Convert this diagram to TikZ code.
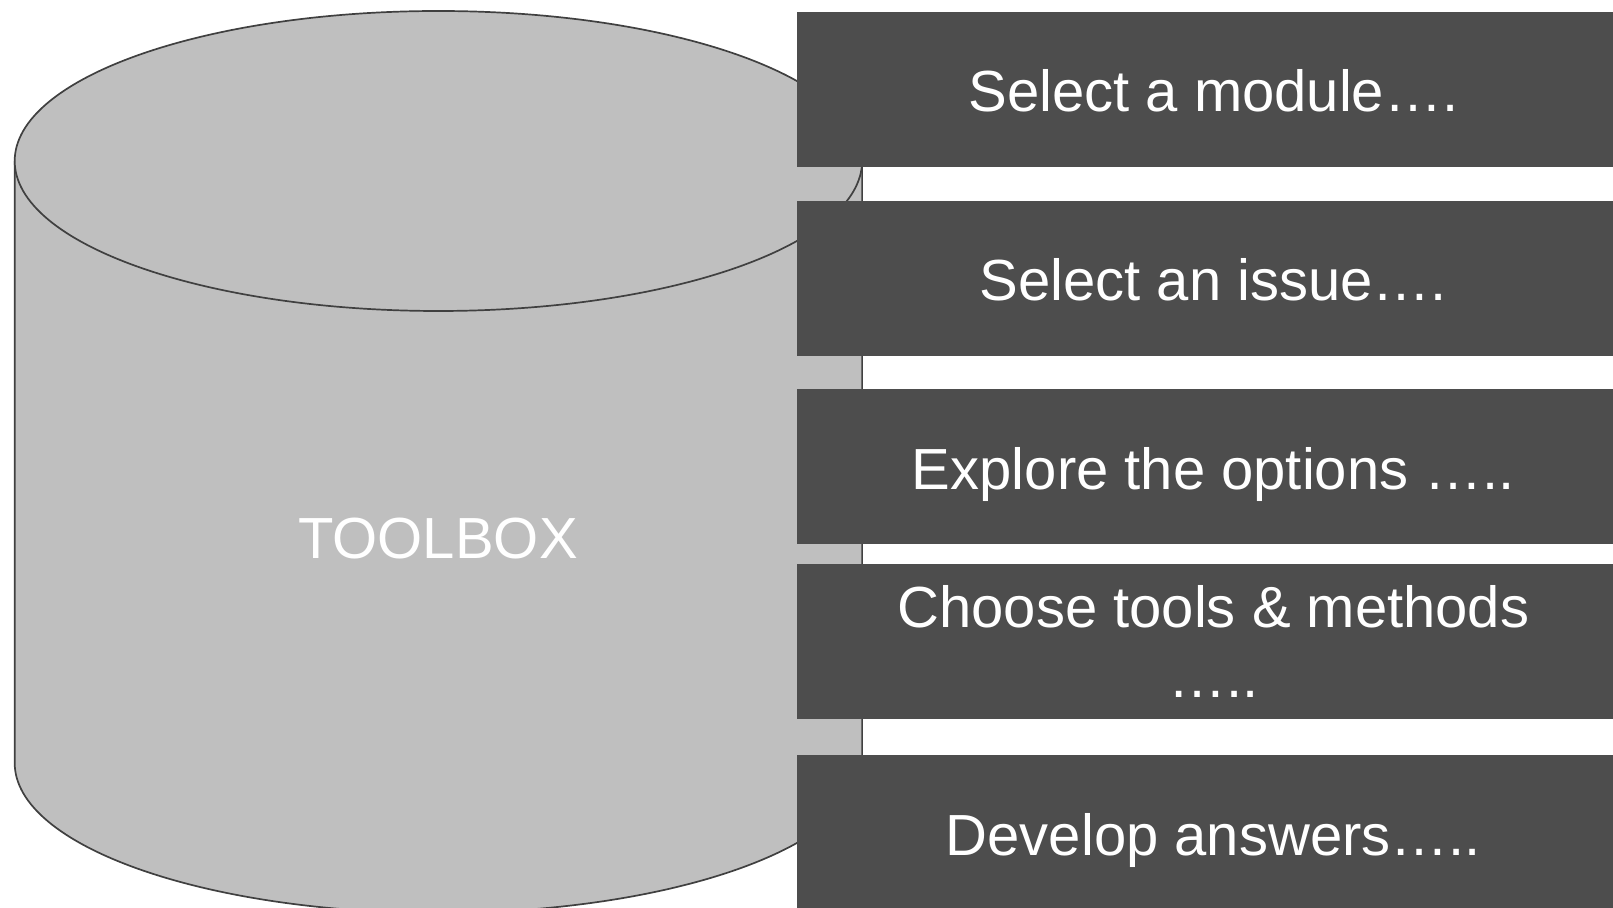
\documentclass[tikz,border=0pt]{standalone}
\usepackage{fontspec}
\setmainfont{Liberation Sans}
\usepackage{tikz}

\definecolor{boxgray}{HTML}{4D4D4D}
\definecolor{cylgray}{HTML}{BFBFBF}
\definecolor{rimgray}{HTML}{404040}

\begin{document}
\begin{tikzpicture}[x=0.5pt,y=-0.5pt,
	stepbox/.style={fill=boxgray, text=white, anchor=north west, inner sep=0pt,
		minimum width=416pt, minimum height=77.65pt, align=center,
		font=\fontsize{29}{35}\selectfont},
	oneline/.style={text height=29pt, text depth=6.65pt},
	rim/.style={draw=rimgray, line width=0.85pt}]
	
	\clip (0,0) rectangle (1613,908);
	
	% cylinder body and top
	\fill[cylgray] (14.7,161) -- (14.7,763) arc[start angle=180, end angle=0, x radius=423.7, y radius=150] -- (862.1,161) -- cycle;
	\draw[rim] (14.7,161) -- (14.7,763) arc[start angle=180, end angle=0, x radius=423.7, y radius=150] -- (862.1,161);
	\filldraw[rim, fill=cylgray] (438.4,161) ellipse [x radius=423.7, y radius=150];
	
	\node[text=white, font=\fontsize{29}{35}\selectfont, anchor=base] (toolbox) at (438,558.3) {TOOLBOX};
	
	% steps
	\node[stepbox, oneline] (module) at (797,11.3) {Select a module….};
	\node[stepbox, oneline] (issue) at (797,200.6) {Select an issue….};
	\node[stepbox, oneline] (options) at (797,388.8) {Explore the options …..};
	\node[stepbox] (tools) at (797,563.7) {Choose tools \& methods\\…..};
	\node[stepbox, oneline] (answers) at (797,755) {Develop answers…..};

\end{tikzpicture}
\end{document}
